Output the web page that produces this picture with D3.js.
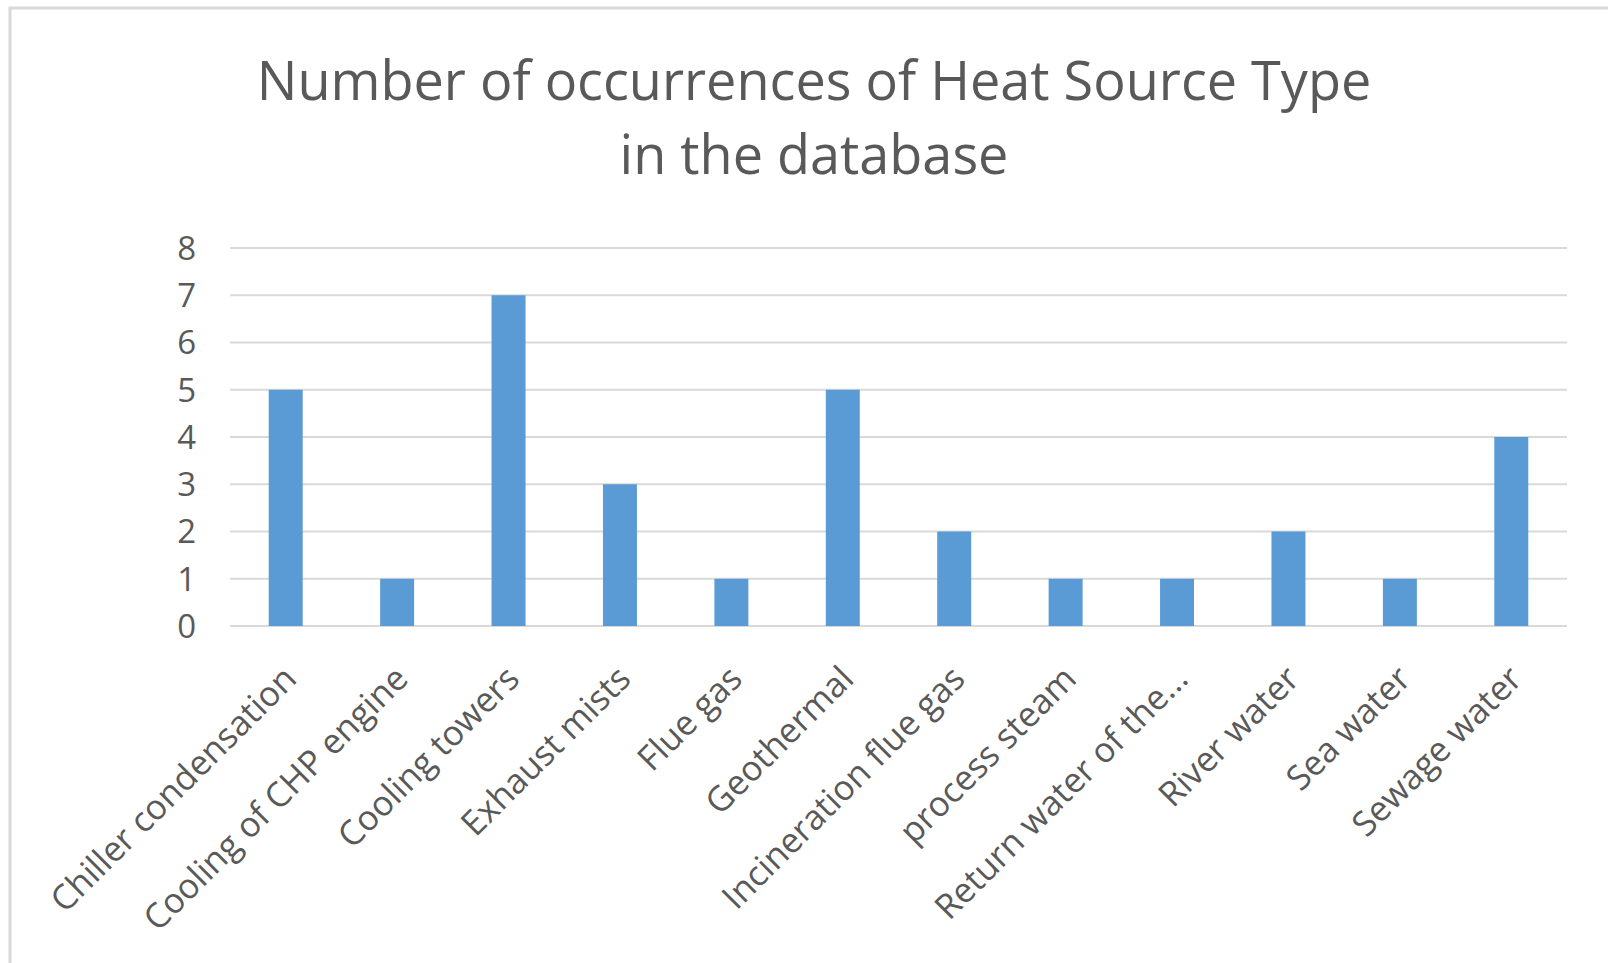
<!DOCTYPE html>
<html>
<head>
<meta charset="utf-8">
<script src="https://cdn.jsdelivr.net/npm/d3@7"></script>
<style>
  body { margin: 0; background: #fff; }
  text { font-family: "Open Sans", sans-serif; fill: #595959; }
</style>
</head>
<body>
<svg id="chart"></svg>
<script>
const W = 1608;
const H = 963;

// data
const categories = [
  "Chiller condensation", "Cooling of CHP engine", "Cooling towers", "Exhaust mists",
  "Flue gas", "Geothermal", "Incineration flue gas", "process steam",
  "Return water of the...", "River water", "Sea water", "Sewage water"
];
const counts = [5, 1, 7, 3, 1, 5, 2, 1, 1, 2, 1, 4];
const yTicks = [0, 1, 2, 3, 4, 5, 6, 7, 8];
const titleLines = ["Number of occurrences of Heat Source Type", "in the database"];

const margin = { left: 230, right: 41, top: 248, bottom: 337 };

const svg = d3.select("#chart")
  .attr("width", W)
  .attr("height", H);

// chart frame (left + top edge visible)
svg.append("path")
  .attr("d", `M10,${H} L10,8 L${W},8`)
  .attr("fill", "none")
  .attr("stroke", "#d9d9d9")
  .attr("stroke-width", 3);

const x = d3.scaleBand()
  .domain(categories)
  .range([margin.left, W - margin.right])
  .paddingInner(0.695)
  .paddingOuter(0.3475);

const y = d3.scaleLinear()
  .domain([0, 8])
  .range([H - margin.bottom, margin.top]);

// gridlines
svg.append("g")
  .selectAll("line")
  .data(yTicks)
  .join("line")
  .attr("x1", margin.left)
  .attr("x2", W - margin.right)
  .attr("y1", d => y(d))
  .attr("y2", d => y(d))
  .attr("stroke", "#d9d9d9")
  .attr("stroke-width", 2);

// y tick labels
svg.append("g")
  .selectAll("text")
  .data(yTicks)
  .join("text")
  .attr("x", 196)
  .attr("y", d => y(d))
  .attr("dy", "0.36em")
  .attr("text-anchor", "end")
  .style("font-size", "33px")
  .text(d => d);

// bars
svg.append("g")
  .selectAll("rect")
  .data(counts)
  .join("rect")
  .attr("x", (d, i) => x(categories[i]))
  .attr("width", x.bandwidth())
  .attr("y", d => y(d))
  .attr("height", d => y(0) - y(d))
  .attr("fill", "#5b9bd5");

// category labels
svg.append("g")
  .selectAll("text")
  .data(categories)
  .join("text")
  .attr("transform", d => `translate(${x(d) + x.bandwidth() / 2 + 4},${y(0) + 46}) rotate(-45)`)
  .attr("text-anchor", "end")
  .attr("dy", "0.36em")
  .style("font-size", "34.5px")
  .text(d => d);

// title
svg.append("g")
  .selectAll("text")
  .data(titleLines)
  .join("text")
  .attr("x", 814)
  .attr("y", (d, i) => 100 + i * 74)
  .attr("text-anchor", "middle")
  .style("font-size", "54px")
  .text(d => d);
</script>
</body>
</html>
